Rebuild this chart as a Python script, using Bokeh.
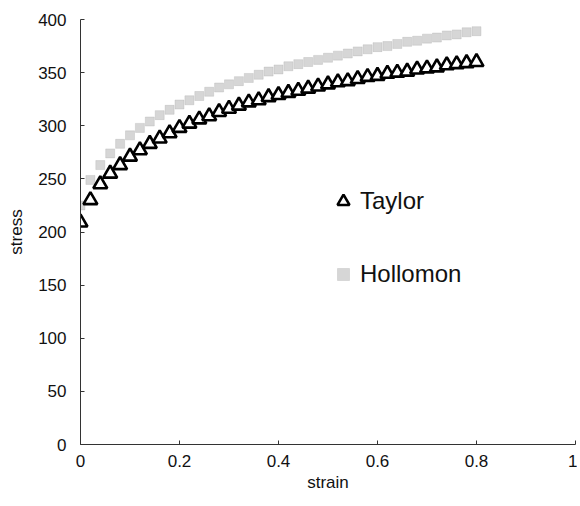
from bokeh.plotting import figure
from bokeh.models import Range1d, Legend, LegendItem, FixedTicker
from bokeh.embed import file_html
from bokeh.resources import INLINE

strain = [0.00, 0.02, 0.04, 0.06, 0.08, 0.10, 0.12, 0.14, 0.16, 0.18,
          0.20, 0.22, 0.24, 0.26, 0.28, 0.30, 0.32, 0.34, 0.36, 0.38,
          0.40, 0.42, 0.44, 0.46, 0.48, 0.50, 0.52, 0.54, 0.56, 0.58,
          0.60, 0.62, 0.64, 0.66, 0.68, 0.70, 0.72, 0.74, 0.76, 0.78, 0.80]

taylor = [209, 230, 245, 255, 263, 271, 277, 283, 288, 293,
          298, 302, 306, 309, 313, 316, 319, 322, 324, 327,
          329, 331, 333, 335, 337, 339, 341, 342, 344, 346,
          347, 349, 350, 351, 353, 354, 355, 357, 358, 359, 360]

hollomon = [225, 249, 263, 274, 283, 291, 298, 304, 310, 315,
            320, 324, 328, 332, 336, 339, 342, 345, 348, 351,
            353, 356, 358, 360, 362, 364, 366, 368, 370, 372,
            374, 375, 377, 379, 380, 382, 383, 385, 386, 388, 389]

x_ticks = [0, 0.2, 0.4, 0.6, 0.8, 1]
y_ticks = [0, 50, 100, 150, 200, 250, 300, 350, 400]

FONT = "Liberation Sans"

p = figure(width=577, height=498, output_backend="svg", toolbar_location=None,
           x_range=Range1d(0, 1), y_range=Range1d(0, 400),
           min_border_left=80, min_border_right=2, min_border_top=19, min_border_bottom=54)
p.outline_line_color = None
p.grid.grid_line_color = None

h = p.scatter(strain, hollomon, marker="square", size=9, fill_color="#c8c8c8",
              fill_alpha=0.75, line_color="#a8a8a8", line_alpha=0.5, line_width=0.6)
t = p.scatter(strain, taylor, marker="triangle", size=14, fill_color="white",
              line_color="black", line_width=2.6)

for ax in (p.xaxis[0], p.yaxis[0]):
    ax.major_tick_in = 4
    ax.major_tick_out = 0
    ax.minor_tick_line_color = None
    ax.axis_line_color = "#333333"
    ax.major_tick_line_color = "#333333"
    ax.major_label_text_font = FONT
    ax.major_label_text_font_size = "17px"
    ax.major_label_text_color = "#111111"
    ax.axis_label_text_font = FONT
    ax.axis_label_text_font_size = "17px"
    ax.axis_label_text_font_style = "normal"
    ax.axis_label_text_color = "#111111"

p.xaxis.ticker = FixedTicker(ticks=x_ticks)
p.yaxis.ticker = FixedTicker(ticks=y_ticks)
p.xaxis.major_label_overrides = {1: "1", 0: "0"}
p.xaxis.axis_label = "strain"
p.yaxis.axis_label = "stress"
p.xaxis.major_label_standoff = 10
p.yaxis.major_label_standoff = 14
p.xaxis.axis_label_standoff = 3
p.yaxis.axis_label_standoff = 9

legend = Legend(items=[LegendItem(label="Taylor", renderers=[t]),
                       LegendItem(label="Hollomon", renderers=[h])],
                location=(248, 155), orientation="vertical",
                glyph_width=30, glyph_height=30, label_height=30,
                spacing=43, padding=0, margin=0, label_standoff=2,
                border_line_color=None, background_fill_alpha=0,
                label_text_font=FONT, label_text_font_size="24px",
                label_text_color="#111111")
p.add_layout(legend, "center")

open("out.html", "w").write(file_html(p, INLINE))
